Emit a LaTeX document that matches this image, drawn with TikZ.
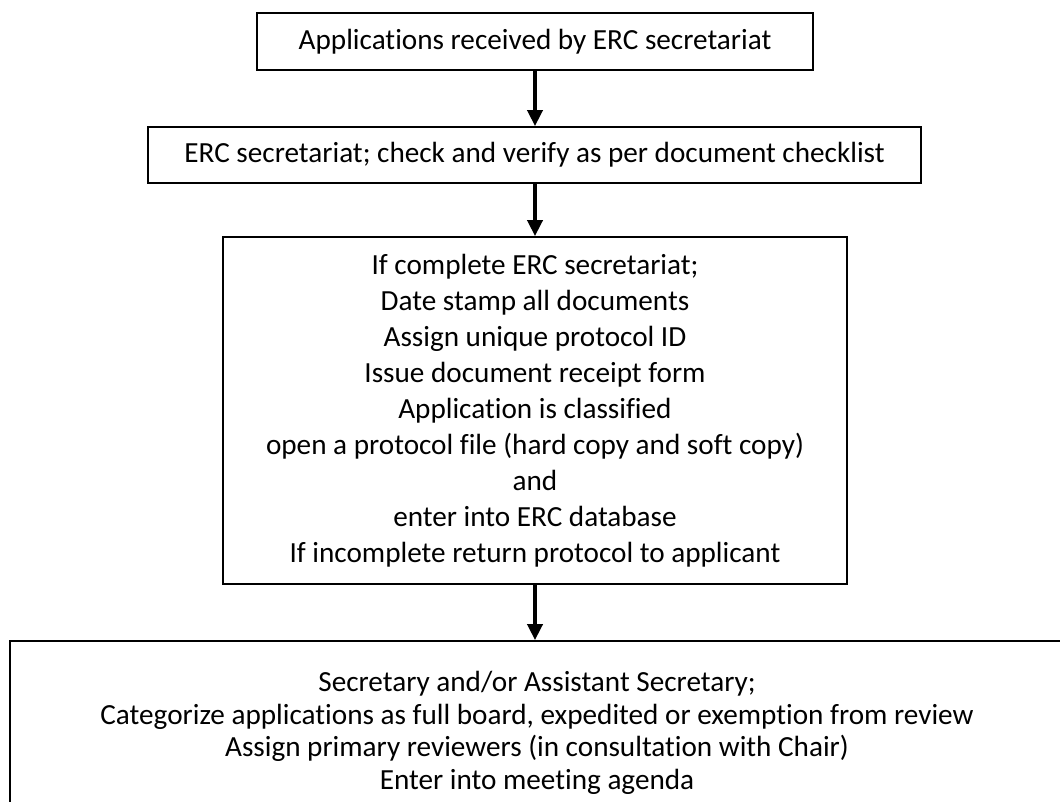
\documentclass[tikz,border=0pt]{standalone}
\usepackage{fontspec}
\setmainfont{Carlito}[Ligatures={NoCommon}]
\usetikzlibrary{arrows.meta}
\tikzset{
  box/.style={draw=black, line width=1.5pt, rectangle, inner sep=0pt, align=center,
    font=\fontsize{21.9pt}{27pt}\selectfont},
  txt/.style={inner sep=0pt, align=center, font=\fontsize{21.9pt}{24.5pt}\selectfont},
  arr/.style={draw=black, line width=2.4pt, -{Triangle[length=12pt,width=11.5pt]}}
}
\begin{document}
\begin{tikzpicture}[x=0.75pt,y=-0.75pt]
\clip (0,0) rectangle (1060,801);
\fill[white] (0,0) rectangle (1060,801);
\node[box, minimum width=417pt, minimum height=42.75pt] (b1) at (535,41.5)
  {Applications received by ERC secretariat};
\node[box, minimum width=579.75pt, minimum height=42pt] (b2) at (534.5,155)
  {ERC secretariat; check and verify as per document checklist};
\node[box, minimum width=468pt, minimum height=260.25pt] (b3) at (535,410.5)
  {If complete ERC secretariat;\\
   Date stamp all documents\\
   Assign unique protocol ID\\
   Issue document receipt form\\
   Application is classified\\
   open a protocol file (hard copy and soft copy)\\
   and\\
   enter into ERC database\\
   If incomplete return protocol to applicant};
\node[box, minimum width=795pt, minimum height=141.75pt] (b4) at (540,735.5) {};
\node[txt] (t4) at (537,733)
  {Secretary and/or Assistant Secretary;\\
   Categorize applications as full board, expedited or exemption from review\\
   Assign primary reviewers (in consultation with Chair)\\
   Enter into meeting agenda};
\draw[arr] (b1.south) -- (b2.north -| b1.south);
\draw[arr] (b2.south -| b3.north) -- (b3.north);
\draw[arr] (b3.south) -- (b3.south |- b4.north);
\end{tikzpicture}
\end{document}
